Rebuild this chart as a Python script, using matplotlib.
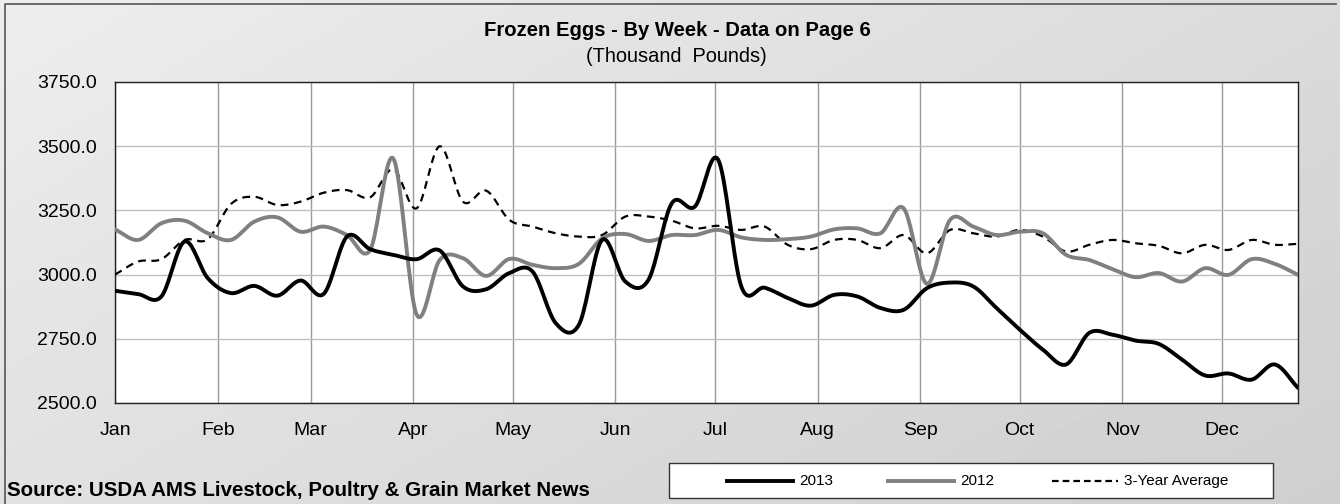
import matplotlib
matplotlib.use('Agg')
import numpy as np
import matplotlib.pyplot as plt
from matplotlib.lines import Line2D
from matplotlib.patches import Rectangle

plt.rcParams['font.family'] = ['Liberation Sans', 'DejaVu Sans']

# weekly values, thousand pounds (52 weeks)
weeks = np.arange(52) * 7  # day of year
eggs_2013 = [2937, 2924, 2915, 3129, 2986, 2928, 2956, 2918, 2977, 2925,
             3148, 3099, 3077, 3060, 3094, 2954, 2943, 3006, 3012, 2811,
             2805, 3135, 2973, 2980, 3277, 3265, 3448, 2954, 2949, 2909,
             2879, 2921, 2915, 2870, 2863, 2947, 2969, 2954, 2870, 2786,
             2708, 2650, 2773, 2766, 2743, 2730, 2669, 2607, 2615, 2591,
             2650, 2559]
eggs_2012 = [3176, 3135, 3200, 3210, 3161, 3135, 3206, 3223, 3167, 3187,
             3154, 3096, 3452, 2845, 3057, 3064, 2995, 3061, 3038, 3025,
             3042, 3141, 3158, 3131, 3154, 3154, 3174, 3145, 3135, 3138,
             3148, 3176, 3180, 3161, 3258, 2964, 3213, 3187, 3154, 3167,
             3161, 3077, 3057, 3021, 2990, 3006, 2973, 3025, 2999, 3060,
             3042, 2999]
avg_3yr = [3000, 3051, 3060, 3135, 3138, 3275, 3303, 3271, 3284, 3319,
           3329, 3301, 3410, 3258, 3500, 3284, 3327, 3213, 3187, 3161,
           3148, 3154, 3226, 3226, 3210, 3180, 3190, 3174, 3187, 3116,
           3099, 3135, 3135, 3103, 3154, 3083, 3174, 3161, 3148, 3174,
           3148, 3090, 3116, 3135, 3122, 3112, 3083, 3116, 3096, 3135,
           3116, 3120]

months = ['Jan', 'Feb', 'Mar', 'Apr', 'May', 'Jun', 'Jul', 'Aug', 'Sep', 'Oct', 'Nov', 'Dec']
month_start = [0, 31, 59, 90, 120, 151, 181, 212, 243, 273, 304, 334]
yticks = [2500, 2750, 3000, 3250, 3500, 3750]


def smooth(x, y, n=20):
    # catmull-rom, like the smoothed lines in the spreadsheet
    x = np.asarray(x, float)
    y = np.asarray(y, float)
    px = np.concatenate([[2 * x[0] - x[1]], x, [2 * x[-1] - x[-2]]])
    py = np.concatenate([[2 * y[0] - y[1]], y, [2 * y[-1] - y[-2]]])
    t = np.linspace(0, 1, n, endpoint=False)
    xs, ys = [], []
    for i in range(1, len(px) - 2):
        for p, out in ((px, xs), (py, ys)):
            p0, p1, p2, p3 = p[i - 1], p[i], p[i + 1], p[i + 2]
            out.append(0.5 * (2 * p1 + (-p0 + p2) * t
                              + (2 * p0 - 5 * p1 + 4 * p2 - p3) * t ** 2
                              + (-p0 + 3 * p1 - 3 * p2 + p3) * t ** 3))
    xs.append([x[-1]])
    ys.append([y[-1]])
    return np.concatenate(xs), np.concatenate(ys)


fig = plt.figure(figsize=(13.4, 5.04), dpi=100)

# gradient background
bg = fig.add_axes([0, 0, 1, 1], zorder=-10)
gx, gy = np.meshgrid(np.linspace(0, 1, 300), np.linspace(0, 1, 120))
grad = 0.93 - 0.12 * (0.6 * gx + 0.4 * gy)
bg.imshow(grad, cmap='gray', vmin=0, vmax=1, aspect='auto', extent=[0, 1, 0, 1], origin='upper')
bg.set_xlim(0, 1)
bg.set_ylim(0, 1)
bg.axis('off')

ax = fig.add_axes([115 / 1340, 1 - 403 / 504, (1298 - 115) / 1340, (403 - 82) / 504])
ax.set_facecolor('white')

x, y = smooth(weeks, avg_3yr)
ax.plot(x, y, color='black', lw=1.6, ls=(0, (3.5, 2.5)), zorder=3, label='3-Year Average')
x, y = smooth(weeks, eggs_2012)
ax.plot(x, y, color='#808080', lw=2.8, zorder=4, label='2012', solid_capstyle='round')
x, y = smooth(weeks, eggs_2013)
ax.plot(x, y, color='black', lw=2.8, zorder=5, label='2013', solid_capstyle='round')

ax.set_xlim(0, 357)
ax.set_ylim(2500, 3750)
ax.set_xticks(month_start)
ax.set_xticklabels(months, fontsize=14)
ax.set_yticks(yticks)
ax.set_yticklabels(['%.1f' % v for v in yticks], fontsize=14)
ax.tick_params(length=0)
ax.tick_params(axis='x', pad=14)
ax.tick_params(axis='y', pad=13)
ax.xaxis.grid(True, color='#9a9a9a', lw=1.0)
ax.yaxis.grid(True, color='#c0c0c0', lw=1.0)
ax.set_axisbelow(True)
for s in ax.spines.values():
    s.set_color('#222222')
    s.set_linewidth(1.0)

fig.text(677 / 1340, 1 - 31 / 504, 'Frozen Eggs - By Week - Data on Page 6',
         ha='center', va='center', fontsize=14.6, fontweight='bold')
fig.text(676 / 1340, 1 - 57 / 504, '(Thousand  Pounds)', ha='center', va='center', fontsize=14.4)
fig.text(7 / 1340, 1 - 490 / 504, 'Source: USDA AMS Livestock, Poultry & Grain Market News',
         ha='left', va='center', fontsize=14.8, fontweight='bold')

# legend box drawn by hand, ordered like the reference
fig.patches.append(Rectangle((669 / 1340, 1 - 498 / 504), 604 / 1340, 35 / 504,
                             transform=fig.transFigure, facecolor='white',
                             edgecolor='#333333', lw=1.0, zorder=1))
ly = 1 - 481 / 504
entries = [('2013', 'black', 2.8, '-', 727),
           ('2012', '#808080', 2.8, '-', 888),
           ('3-Year Average', 'black', 1.6, (0, (3, 1.8)), 1052)]
for lab, col, lw, ls, x0 in entries:
    fig.lines.append(Line2D([x0 / 1340, (x0 + 66) / 1340], [ly, ly], transform=fig.transFigure,
                            color=col, lw=lw, ls=ls, zorder=2))
    fig.text((x0 + 72) / 1340, ly, lab, ha='left', va='center', fontsize=11, zorder=3)

# outer frame
fig.lines.append(Line2D([5 / 1340, 5 / 1340, 1336 / 1340], [0, 1 - 4 / 504, 1 - 4 / 504],
                        transform=fig.transFigure, color='#555555', lw=1.2))

fig.savefig('out.png', dpi=100)
